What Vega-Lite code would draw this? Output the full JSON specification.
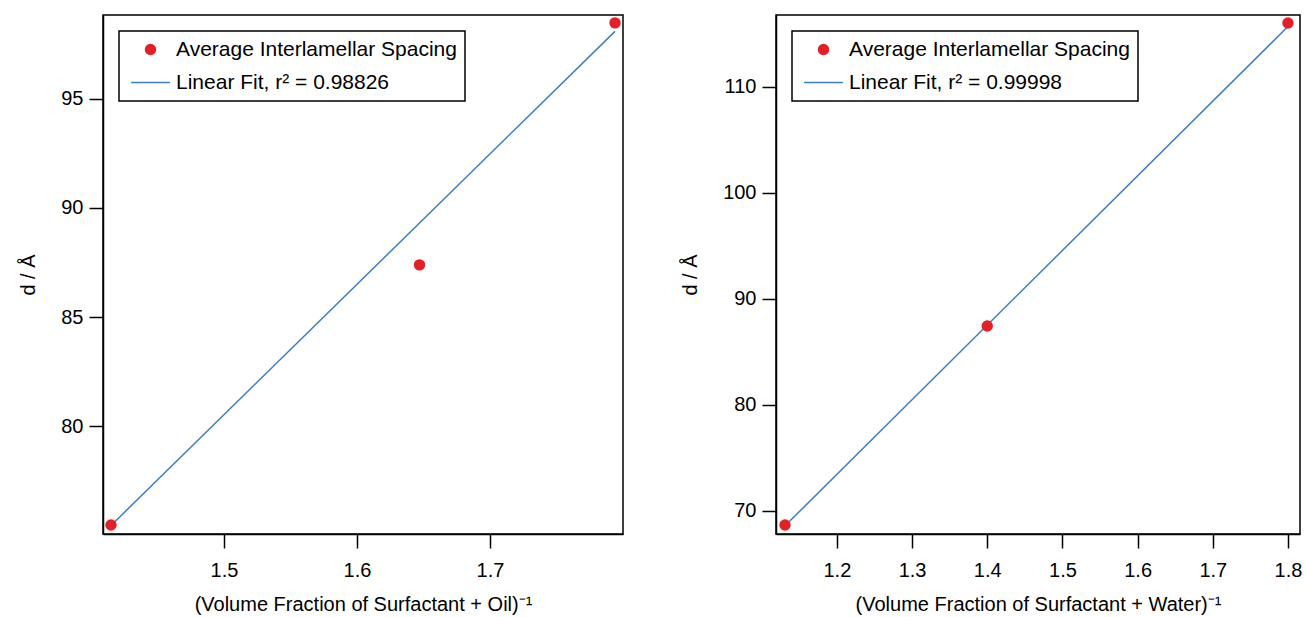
{
  "$schema": "https://vega.github.io/schema/vega-lite/v6.json",
  "padding": {"left": 18, "top": 14, "right": 0, "bottom": 0},
  "background": "white",
  "spacing": 55,
  "config": {
    "font": "Liberation Sans",
    "view": {"stroke": "black", "strokeWidth": 1.5},
    "axis": {
      "grid": false,
      "labelFont": "Liberation Sans",
      "titleFont": "Liberation Sans",
      "labelFontSize": 20,
      "titleFontSize": 20,
      "titleFontWeight": "normal",
      "labelColor": "black",
      "titleColor": "black",
      "tickColor": "black",
      "domainColor": "black",
      "tickWidth": 1.5,
      "domainWidth": 1.5,
      "tickSize": 14
    },
    "axisX": {"labelPadding": 12, "titlePadding": 14},
    "axisY": {"labelPadding": 6, "titlePadding": 22},
    "legend": {
      "strokeColor": "black",
      "strokeWidth": 1.5,
      "fillColor": "white",
      "labelFont": "Liberation Sans",
      "labelFontSize": 21,
      "labelColor": "black",
      "labelLimit": 500,
      "padding": 8,
      "rowPadding": 11,
      "symbolSize": 130,
      "symbolOffset": 13,
      "labelOffset": 15,
      "symbolStrokeWidth": 0
    }
  },
  "datasets": {
    "oil": [
      {"kind": "fit", "series": "Linear Fit, r² = 0.98826", "x": 1.416, "y": 75.5},
      {"kind": "fit", "series": "Linear Fit, r² = 0.98826", "x": 1.794, "y": 98.1},
      {"kind": "point", "series": "Average Interlamellar Spacing", "x": 1.415, "y": 75.46},
      {"kind": "point", "series": "Average Interlamellar Spacing", "x": 1.647, "y": 87.39},
      {"kind": "point", "series": "Average Interlamellar Spacing", "x": 1.794, "y": 98.49}
    ],
    "water": [
      {"kind": "fit", "series": "Linear Fit, r² = 0.99998", "x": 1.131, "y": 68.6},
      {"kind": "fit", "series": "Linear Fit, r² = 0.99998", "x": 1.8, "y": 115.7},
      {"kind": "point", "series": "Average Interlamellar Spacing", "x": 1.131, "y": 68.68},
      {"kind": "point", "series": "Average Interlamellar Spacing", "x": 1.4, "y": 87.45},
      {"kind": "point", "series": "Average Interlamellar Spacing", "x": 1.8, "y": 116.04}
    ]
  },
  "hconcat": [
    {
      "width": 520,
      "height": 519,
      "data": {"name": "oil"},
      "encoding": {
        "x": {"field": "x", "type": "quantitative", "scale": {"domain": [1.409, 1.8], "nice": false, "zero": false}, "axis": {"values": [1.5, 1.6, 1.7], "format": ".1f", "title": "(Volume Fraction of Surfactant + Oil)⁻¹"}},
        "y": {"field": "y", "type": "quantitative", "scale": {"domain": [75.05, 98.85], "nice": false, "zero": false}, "axis": {"values": [80, 85, 90, 95], "format": "d", "title": "d / Å"}}
      },
      "layer": [
        {
          "transform": [{"filter": "datum.kind === 'fit'"}],
          "mark": {"type": "line", "color": "#3b7fc0", "strokeWidth": 1.5},
          "encoding": {}
        },
        {
          "transform": [{"filter": "datum.kind === 'point'"}],
          "mark": {"type": "point", "filled": true, "size": 130, "opacity": 1},
          "encoding": {
            "color": {"field": "series", "type": "nominal", "scale": {"domain": ["Average Interlamellar Spacing", "Linear Fit, r² = 0.98826"], "range": ["#e41f26", "#3b7fc0"]}, "legend": {"orient": "none", "legendX": 16, "legendY": 16, "title": null}},
            "shape": {"field": "series", "type": "nominal", "scale": {"domain": ["Average Interlamellar Spacing", "Linear Fit, r² = 0.98826"], "range": ["circle", "M-3.4,-0.13H3.4V0.13H-3.4Z"]}, "legend": {"orient": "none", "legendX": 16, "legendY": 16, "title": null}}
          }
        }
      ]
    },
    {
      "width": 524,
      "height": 519,
      "data": {"name": "water"},
      "encoding": {
        "x": {"field": "x", "type": "quantitative", "scale": {"domain": [1.119, 1.816], "nice": false, "zero": false}, "axis": {"values": [1.2, 1.3, 1.4, 1.5, 1.6, 1.7, 1.8], "format": ".1f", "title": "(Volume Fraction of Surfactant + Water)⁻¹"}},
        "y": {"field": "y", "type": "quantitative", "scale": {"domain": [67.83, 116.79], "nice": false, "zero": false}, "axis": {"values": [70, 80, 90, 100, 110], "format": "d", "title": "d / Å"}}
      },
      "layer": [
        {
          "transform": [{"filter": "datum.kind === 'fit'"}],
          "mark": {"type": "line", "color": "#3b7fc0", "strokeWidth": 1.5},
          "encoding": {}
        },
        {
          "transform": [{"filter": "datum.kind === 'point'"}],
          "mark": {"type": "point", "filled": true, "size": 130, "opacity": 1},
          "encoding": {
            "color": {"field": "series", "type": "nominal", "scale": {"domain": ["Average Interlamellar Spacing", "Linear Fit, r² = 0.99998"], "range": ["#e41f26", "#3b7fc0"]}, "legend": {"orient": "none", "legendX": 16, "legendY": 16, "title": null}},
            "shape": {"field": "series", "type": "nominal", "scale": {"domain": ["Average Interlamellar Spacing", "Linear Fit, r² = 0.99998"], "range": ["circle", "M-3.4,-0.13H3.4V0.13H-3.4Z"]}, "legend": {"orient": "none", "legendX": 16, "legendY": 16, "title": null}}
          }
        }
      ]
    }
  ],
  "resolve": {"scale": {"color": "independent", "shape": "independent", "x": "independent", "y": "independent"}, "legend": {"color": "independent", "shape": "independent"}}
}
